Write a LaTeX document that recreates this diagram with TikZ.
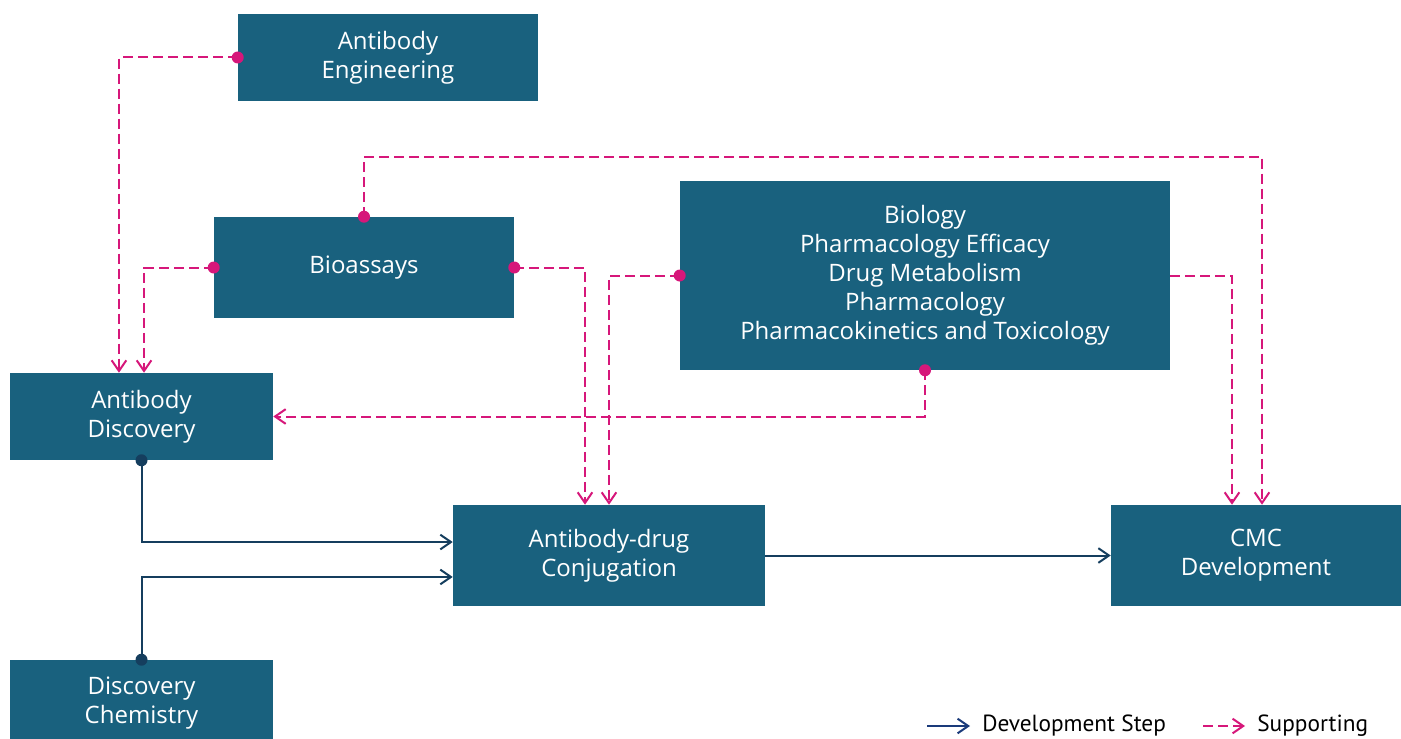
\documentclass[tikz,border=0pt]{standalone}
\usepackage{fontspec}
\setmainfont{Open Sans}
\newfontfamily\legfont{PT Sans}
\usetikzlibrary{arrows.meta}
\definecolor{boxteal}{HTML}{19617E}
\definecolor{suppink}{HTML}{D6177A}
\definecolor{stepnavy}{HTML}{153E5E}
\definecolor{legnavy}{HTML}{1A3A7A}
\tikzset{
  unit/.style={fill=boxteal, text=white, align=center, inner sep=0pt,
    font=\fontsize{18}{21.75}\selectfont},
  devline/.style={draw=stepnavy, line width=1.5pt, -{Straight Barb[length=8pt,width=11pt]}},
  supline/.style={draw=suppink, line width=1.5pt, dash pattern=on 7.5pt off 3.75pt,
    -{Straight Barb[length=8pt,width=11pt]}},
  legtext/.style={font=\legfont\fontsize{17.5}{20}\selectfont, anchor=west, inner sep=0pt}
}
\begin{document}
\begin{tikzpicture}[x=0.75pt,y=-0.75pt]
\useasboundingbox (0,0) rectangle (1401,738);
% boxes
\node[unit, minimum width=225pt, minimum height=65.25pt] (eng) at (388,57.5) {Antibody\\Engineering};
\node[unit, minimum width=225pt, minimum height=75.75pt] (bioa) at (364,267.5) {Bioassays};
\node[unit, minimum width=367.5pt, minimum height=141.75pt] (biol) at (925,275.5)
  {Biology\\Pharmacology Efficacy\\Drug Metabolism\\Pharmacology\\Pharmacokinetics and Toxicology};
\node[unit, minimum width=197.25pt, minimum height=65.25pt] (disc) at (141.5,416.5) {Antibody\\Discovery};
\node[unit, minimum width=234pt, minimum height=75.75pt] (adc) at (609,555.5) {Antibody-drug\\Conjugation};
\node[unit, minimum width=217.5pt, minimum height=75.75pt] (cmc) at (1256,555.5) {CMC\\Development};
\node[unit, minimum width=197.25pt, minimum height=65.25pt] (chem) at (141.5,703.5) {Discovery\\Chemistry};
% supporting links
\draw[supline] (eng.west) -| ([xshift=-16.9pt]disc.north);
\draw[supline] (bioa.west) -| ([xshift=1.9pt]disc.north);
\draw[supline] (bioa.north) -- ++(0,-60) -| ([xshift=4.5pt]cmc.north);
\draw[supline] (bioa.east) -| ([xshift=-18pt]adc.north);
\draw[supline] (biol.west) -| (adc.north);
\draw[supline] (biol.east) -| ([xshift=-18pt]cmc.north);
\draw[supline] (biol.south) |- (disc.east);
% development steps
\draw[devline] (disc.south) |- ([yshift=10.1pt]adc.west);
\draw[devline] (chem.north) |- ([yshift=-16.1pt]adc.west);
\draw[devline] (adc.east) -- (cmc.west);
\foreach \p in {eng.west,bioa.west,bioa.north,bioa.east,biol.west,biol.south}
  \fill[suppink] (\p) circle (4.5pt);
\foreach \p in {disc.south,chem.north}
  \fill[stepnavy] (\p) circle (4.5pt);
% legend
\node[legtext] (legdev) at (982,726) {Development Step};
\node[legtext] (legsup) at (1257,726) {Supporting};
\draw[devline, draw=legnavy] ([xshift=-41pt]legdev.west) -- ([xshift=-9pt]legdev.west);
\draw[supline] ([xshift=-40.5pt]legsup.west) -- ([xshift=-9pt]legsup.west);
\end{tikzpicture}
\end{document}
